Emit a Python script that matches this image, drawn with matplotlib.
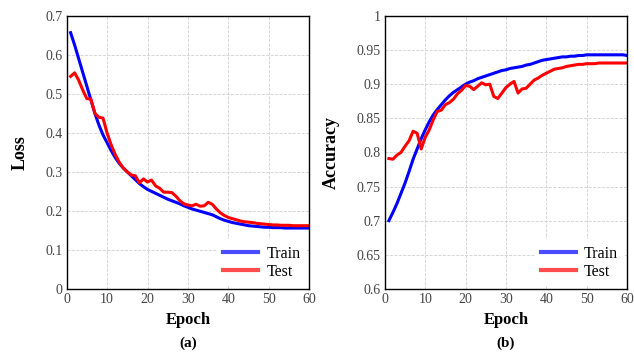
import matplotlib
matplotlib.use("Agg")
from matplotlib import pyplot as plt
import numpy as np

epochs = np.arange(1, 61)

train_loss = [0.657, 0.625, 0.59, 0.555, 0.52, 0.485, 0.45, 0.42, 0.395, 0.375,
              0.355, 0.337, 0.322, 0.31, 0.3, 0.29, 0.28, 0.27, 0.262, 0.255,
              0.25, 0.245, 0.24, 0.235, 0.23, 0.226, 0.222, 0.218, 0.213, 0.209,
              0.205, 0.202, 0.199, 0.196, 0.193, 0.19, 0.185, 0.18, 0.176, 0.173,
              0.17, 0.168, 0.166, 0.164, 0.162, 0.161, 0.16, 0.159, 0.158, 0.158,
              0.157, 0.157, 0.157, 0.156, 0.156, 0.156, 0.156, 0.156, 0.156, 0.156]
test_loss = [0.545, 0.554, 0.535, 0.51, 0.488, 0.487, 0.45, 0.44, 0.438, 0.4,
             0.37, 0.345, 0.325, 0.31, 0.3, 0.292, 0.29, 0.272, 0.282, 0.274,
             0.279, 0.264, 0.258, 0.248, 0.248, 0.247, 0.238, 0.226, 0.218, 0.215,
             0.213, 0.217, 0.212, 0.213, 0.222, 0.217, 0.205, 0.195, 0.188, 0.183,
             0.18, 0.177, 0.174, 0.172, 0.171, 0.170, 0.168, 0.167, 0.166, 0.165,
             0.164, 0.164, 0.163, 0.163, 0.163, 0.162, 0.162, 0.162, 0.162, 0.162]

train_acc = [0.70, 0.712, 0.725, 0.74, 0.755, 0.772, 0.79, 0.805, 0.82, 0.833,
             0.845, 0.855, 0.863, 0.87, 0.877, 0.883, 0.888, 0.892, 0.896, 0.9,
             0.903, 0.905, 0.908, 0.91, 0.912, 0.914, 0.916, 0.918, 0.92, 0.921,
             0.923, 0.924, 0.925, 0.926, 0.928, 0.929, 0.931, 0.933, 0.935, 0.936,
             0.937, 0.938, 0.939, 0.94, 0.94, 0.941, 0.941, 0.942, 0.942, 0.943,
             0.943, 0.943, 0.943, 0.943, 0.943, 0.943, 0.943, 0.943, 0.943, 0.942]
test_acc = [0.791, 0.79, 0.796, 0.8, 0.809, 0.817, 0.831, 0.828, 0.805, 0.822,
            0.833, 0.848, 0.86, 0.862, 0.87, 0.873, 0.878, 0.886, 0.891, 0.898,
            0.897, 0.892, 0.897, 0.902, 0.899, 0.9, 0.882, 0.879, 0.887, 0.895,
            0.9, 0.904, 0.887, 0.893, 0.894, 0.9, 0.906, 0.909, 0.913, 0.916,
            0.919, 0.922, 0.923, 0.924, 0.926, 0.927, 0.928, 0.929, 0.929, 0.93,
            0.93, 0.93, 0.931, 0.931, 0.931, 0.931, 0.931, 0.931, 0.931, 0.931]

plt.rcParams['font.family'] = ['Liberation Serif', 'DejaVu Serif']

fig = plt.figure(figsize=(6.34, 3.54), dpi=100)
ax1 = fig.add_axes([0.105, 0.184, 0.383, 0.771])
ax2 = fig.add_axes([0.607, 0.184, 0.382, 0.771])


def style_axis(ax, ylabel, ylim, yticks, yticklabels, caption):
    ax.set_xlim(0, 60)
    ax.set_ylim(*ylim)
    ax.set_xticks(range(0, 61, 10))
    ax.set_yticks(yticks)
    ax.set_yticklabels(yticklabels)
    ax.tick_params(length=0, labelsize=10, labelcolor='#444444', pad=3)
    ax.grid(True, linestyle='--', color='#d0d0d0', linewidth=0.6)
    ax.set_axisbelow(True)
    for s in ax.spines.values():
        s.set_linewidth(1.0)
    ax.set_xlabel("Epoch", fontsize=12, fontweight='bold', labelpad=4)
    ax.set_ylabel(ylabel, fontsize=13, fontweight='bold', labelpad=12)
    ax.text(0.5, -0.2, caption, transform=ax.transAxes, ha='center', va='center',
            fontsize=11, fontweight='bold')
    leg = ax.legend(loc='lower right', fontsize=11.5, frameon=True, fancybox=False,
                    handlelength=2.2, borderaxespad=0.15, handletextpad=0.5,
                    labelspacing=0.15)
    leg.get_frame().set_edgecolor('none')
    leg.get_frame().set_alpha(1.0)
    for line in leg.get_lines():
        line.set_linewidth(3)
        line.set_alpha(0.7)


ax1.plot(epochs, train_loss, color='#0000ff', linewidth=2.2, label='Train')
ax1.plot(epochs, test_loss, color='#ff0000', linewidth=2.2, label='Test')
style_axis(ax1, "Loss", (0, 0.7), np.arange(0, 0.71, 0.1),
           ['0', '0.1', '0.2', '0.3', '0.4', '0.5', '0.6', '0.7'], "(a)")

ax2.plot(epochs, train_acc, color='#0000ff', linewidth=2.2, label='Train')
ax2.plot(epochs, test_acc, color='#ff0000', linewidth=2.2, label='Test')
style_axis(ax2, "Accuracy", (0.6, 1.0), np.arange(0.6, 1.001, 0.05),
           ['0.6', '0.65', '0.7', '0.75', '0.8', '0.85', '0.9', '0.95', '1'], "(b)")

plt.savefig("out.png", dpi=100)
